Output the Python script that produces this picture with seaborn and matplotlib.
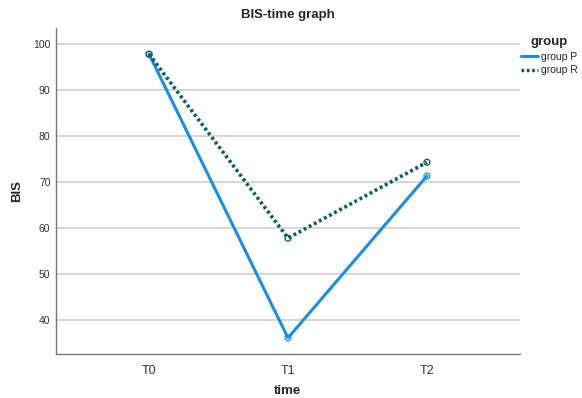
import pandas as pd
import seaborn as sns
import matplotlib.pyplot as plt
from matplotlib.lines import Line2D

# ---- data ----
times = ["T0", "T1", "T2"]
group_p = [97.8, 36.1, 71.3]
group_r = [97.8, 57.8, 74.3]

df = pd.DataFrame({
    "time": times * 2,
    "BIS": group_p + group_r,
    "group": ["group P"] * 3 + ["group R"] * 3,
})

sns.set_style("white")
plt.rcParams['font.family'] = ['Liberation Sans', 'DejaVu Sans']

fig = plt.figure(figsize=(5.82, 3.98), dpi=100)
ax = fig.add_axes([56 / 582, 1 - 354 / 398, 464 / 582, 326 / 398])

palette = {"group P": "#1a8ee6", "group R": "#0b5c5c"}
dots = (0, (0.8, 0.8))
sns.lineplot(data=df, x="time", y="BIS", hue="group", palette=palette,
             linewidth=2.2, ax=ax, legend=False, sort=False)
ax.lines[1].set_linestyle(dots)
ax.lines[1].set_linewidth(2.6)

for name, vals in [("group P", group_p), ("group R", group_r)]:
    ax.scatter(range(len(times)), vals, s=18, facecolors="none",
               edgecolors=palette[name], linewidths=0.9, zorder=3)

ax.set_xlim(-0.67, 2.67)
ax.set_ylim(32.6, 103.5)
ax.set_yticks([40, 50, 60, 70, 80, 90, 100])
ax.yaxis.grid(True, color="#d0d0d0", linewidth=1.2)
ax.set_axisbelow(True)
for s in ["top", "right"]:
    ax.spines[s].set_visible(False)
for s in ["left", "bottom"]:
    ax.spines[s].set_color("#777777")
    ax.spines[s].set_linewidth(1.0)
ax.tick_params(axis="y", labelsize=7.5, length=0, pad=4, colors="#333333")
ax.tick_params(axis="x", labelsize=9, length=0, pad=8, colors="#333333")
ax.set_xlabel("time", fontsize=9.5, fontweight="bold", labelpad=6)
ax.set_ylabel("BIS", fontsize=9.5, fontweight="bold", labelpad=7)
ax.set_title("BIS-time graph", fontsize=9.5, fontweight="bold", pad=7)

# legend
handles = [Line2D([], [], color=palette["group P"], linewidth=2.2),
           Line2D([], [], color=palette["group R"], linewidth=2.4,
                  linestyle=dots)]
leg = fig.legend(handles, ["group P", "group R"], title="group",
                 loc="upper left", bbox_to_anchor=(521 / 582, 1 - 36 / 398),
                 frameon=False, fontsize=7.5, title_fontsize=9.5,
                 handlelength=1.6, handletextpad=0.3, labelspacing=0.35,
                 alignment="center", borderaxespad=0, borderpad=0)
leg.get_title().set_fontweight("bold")

plt.savefig("out.png", dpi=100)
